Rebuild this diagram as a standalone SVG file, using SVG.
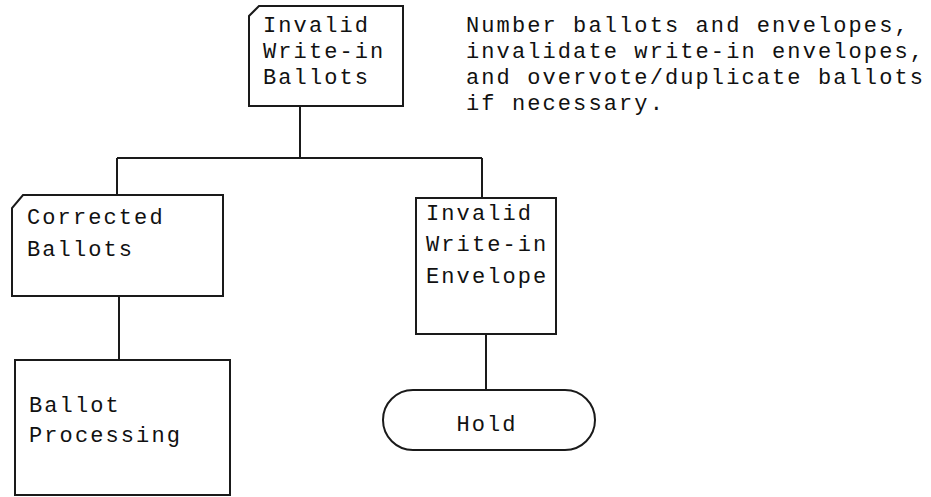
<svg xmlns="http://www.w3.org/2000/svg" width="931" height="497" viewBox="0 0 931 497">
  <style>
    .shape { fill: #ffffff; stroke: #1a1a1a; stroke-width: 2; }
    .wire { fill: none; stroke: #1a1a1a; stroke-width: 2; }
    .label { font-family: "Liberation Mono", "DejaVu Sans Mono", monospace; font-size: 22px; letter-spacing: 2.1px; fill: #111111; }
  </style>
  <rect width="931" height="497" fill="#ffffff"/>

  <!-- connectors -->
  <g id="connectors">
    <path class="wire" d="M300 106 V158"/>
    <path class="wire" d="M117 158 H482"/>
    <path class="wire" d="M117 158 V195"/>
    <path class="wire" d="M482 158 V198"/>
    <path class="wire" d="M119 296 V360"/>
    <path class="wire" d="M486 334 V390"/>
  </g>

  <!-- document with clipped corner -->
  <g id="invalid-write-in-ballots">
    <path class="shape" d="M259 6 H403 V106 H249 V16 Z"/>
    <text class="label" x="263" y="32">Invalid</text>
    <text class="label" x="263" y="58">Write-in</text>
    <text class="label" x="263" y="84">Ballots</text>
  </g>

  <g id="note">
    <text class="label" x="466" y="32">Number ballots and envelopes,</text>
    <text class="label" x="466" y="58">invalidate write-in envelopes,</text>
    <text class="label" x="466" y="84">and overvote/duplicate ballots</text>
    <text class="label" x="466" y="110">if necessary.</text>
  </g>

  <g id="corrected-ballots">
    <path class="shape" d="M23 195 H223 V296 H12 V208 Z"/>
    <text class="label" x="27" y="224">Corrected</text>
    <text class="label" x="27" y="256">Ballots</text>
  </g>

  <g id="invalid-write-in-envelope">
    <rect class="shape" x="416" y="198" width="140" height="136"/>
    <text class="label" x="426" y="220">Invalid</text>
    <text class="label" x="426" y="251">Write-in</text>
    <text class="label" x="426" y="283">Envelope</text>
  </g>

  <g id="ballot-processing">
    <rect class="shape" x="15" y="360" width="215" height="135"/>
    <text class="label" x="29" y="412">Ballot</text>
    <text class="label" x="29" y="442">Processing</text>
  </g>

  <g id="hold">
    <rect class="shape" x="383" y="390" width="212" height="60" rx="30" ry="30"/>
    <text class="label" x="487" y="431" text-anchor="middle">Hold</text>
  </g>
</svg>
